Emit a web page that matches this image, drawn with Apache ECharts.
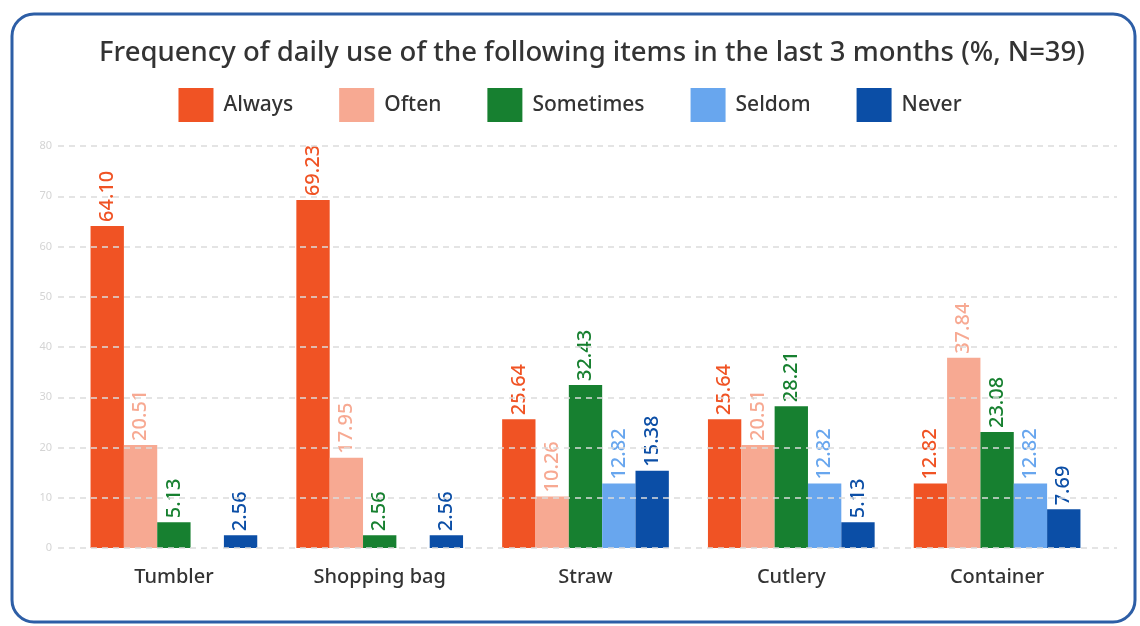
<!DOCTYPE html>
<html>
<head>
<meta charset="utf-8">
<style>
  html, body { margin: 0; padding: 0; background: #ffffff; }
  #chart { width: 1140px; height: 626px; }
</style>
<script src="https://cdn.jsdelivr.net/npm/echarts@6/dist/echarts.min.js"></script>
</head>
<body>
<div id="chart"></div>
<script>
// Survey items and answer shares (%)
const categories = ['Tumbler', 'Shopping bag', 'Straw', 'Cutlery', 'Container'];
const frequencies = ['Always', 'Often', 'Sometimes', 'Seldom', 'Never'];
const always    = [64.10, 69.23, 25.64, 25.64, 12.82];
const often     = [20.51, 17.95, 10.26, 20.51, 37.84];
const sometimes = [5.13, 2.56, 32.43, 28.21, 23.08];
const seldom    = [null, null, 12.82, 12.82, 12.82];
const never     = [2.56, 2.56, 15.38, 5.13, 7.69];
const yTicks = [0, 10, 20, 30, 40, 50, 60, 70, 80];

const seriesValues = [always, often, sometimes, seldom, never];
const colors = ['#f05324', '#f7a992', '#178030', '#68a6ee', '#0b4ea6'];

const FONT = '"Noto Sans", "Open Sans", sans-serif';
const GRID_TOP = 146, GRID_BOTTOM = 78;

const chart = echarts.init(document.getElementById('chart'));

chart.setOption({
  backgroundColor: '#ffffff',
  animation: false,
  color: colors,
  textStyle: { fontFamily: FONT },
  title: {
    text: 'Frequency of daily use of the following items in the last 3 months (%, N=39)',
    left: 587, textAlign: 'center', top: 34,
    textStyle: { fontFamily: FONT, fontSize: 27.5, fontWeight: 500, color: '#333333' }
  },
  legend: {
    data: frequencies,
    top: 83, left: 'center',
    itemWidth: 35, itemHeight: 34, itemGap: 46,
    icon: 'rect',
    textStyle: { fontFamily: FONT, fontSize: 21, fontWeight: 500, color: '#333333', padding: [0, 0, 0, 5] }
  },
  graphic: [{
    type: 'rect',
    shape: { x: 12, y: 14, width: 1123, height: 608, r: 22 },
    style: { fill: 'none', stroke: '#2d5ea6', lineWidth: 3 },
    silent: true, z: 100
  }],
  grid: [
    { left: 71, right: 40, top: GRID_TOP, bottom: GRID_BOTTOM },
    { left: 58, right: 23, top: GRID_TOP, bottom: GRID_BOTTOM }
  ],
  xAxis: [
    {
      type: 'category', data: categories, gridIndex: 0,
      axisLine: { show: false }, axisTick: { show: false },
      axisLabel: { fontFamily: FONT, fontSize: 20, fontWeight: 500, color: '#333333', margin: 19 }
    },
    { type: 'value', gridIndex: 1, show: false, min: 0, max: 1 }
  ],
  yAxis: [
    {
      type: 'value', gridIndex: 0, min: yTicks[0], max: yTicks[yTicks.length - 1], interval: 10,
      axisLabel: { show: false }, splitLine: { show: false },
      axisLine: { show: false }, axisTick: { show: false }
    },
    {
      type: 'value', gridIndex: 1, min: yTicks[0], max: yTicks[yTicks.length - 1], interval: 10,
      z: 5,
      axisLine: { show: false }, axisTick: { show: false },
      axisLabel: { fontFamily: FONT, fontSize: 11, color: '#d4d4d4', margin: 6 },
      splitLine: { show: true, lineStyle: { color: '#dcdcdc', type: [6, 5], width: 1.5 } }
    }
  ],
  series: frequencies.map((name, i) => ({
    name,
    type: 'bar',
    xAxisIndex: 0, yAxisIndex: 0,
    data: seriesValues[i],
    barGap: '0%',
    barCategoryGap: '19%',
    itemStyle: { color: colors[i] },
    label: {
      show: true,
      position: 'top',
      rotate: 90,
      align: 'left',
      verticalAlign: 'middle',
      distance: 4,
      fontFamily: FONT,
      fontSize: 20,
      fontWeight: 500,
      color: colors[i],
      formatter: p => (p.value == null ? '' : Number(p.value).toFixed(2))
    }
  }))
});
</script>
</body>
</html>
